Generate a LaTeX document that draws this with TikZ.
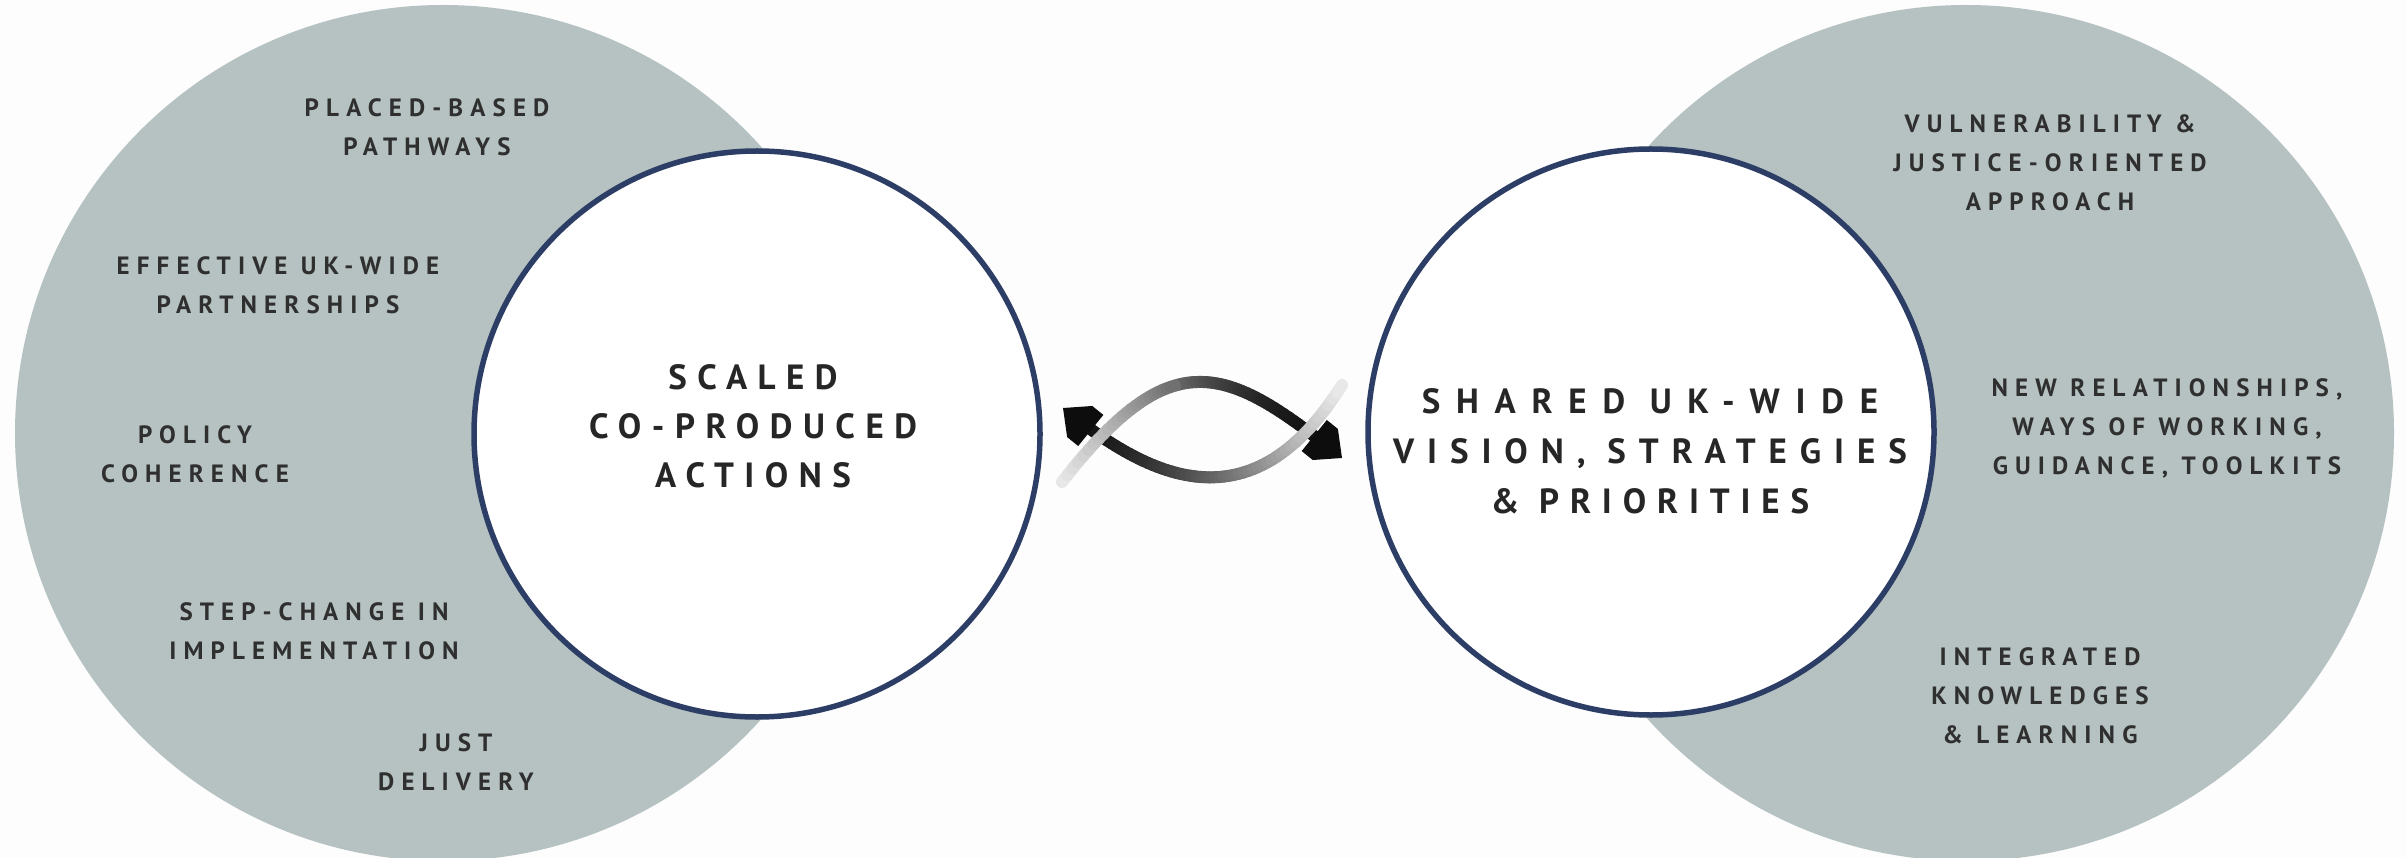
\documentclass[tikz,border=0pt]{standalone}
\usepackage{fontspec}
\usetikzlibrary{calc}
\newfontfamily\smallf{PT Sans}[LetterSpace=28.5]
\newfontfamily\bigfl{PT Sans}[LetterSpace=30]
\newfontfamily\bigfr{PT Sans}[LetterSpace=37]
\definecolor{bgc}{HTML}{FDFDFD}
\definecolor{sage}{HTML}{B5C2C1}
\definecolor{navy}{HTML}{2C3E66}
\definecolor{ink}{HTML}{2F2F2F}
\definecolor{inkb}{HTML}{262626}
\tikzset{
  declare function={bz(\t,\a,\b,\c,\d)=(1-\t)^3*\a+3*(1-\t)^2*\t*\b+3*(1-\t)*\t^2*\c+\t^3*\d;
                    shadeX(\u)=8+87*(1-\u^1.6);},
  bigdisc/.style={circle, fill=sage, minimum size=856pt, inner sep=0pt},
  ring/.style={circle, draw=navy, line width=5.5pt, fill=white, minimum size=566pt, inner sep=0pt},
  lbl/.style={align=center, text=ink, font=\smallf\bfseries\fontsize{25}{39}\selectfont},
  bigl/.style={align=center, text=inkb, font=\bigfl\bfseries\fontsize{35}{49}\selectfont},
  bigr/.style={align=center, text=inkb, font=\bigfr\bfseries\fontsize{35}{50}\selectfont},
  seg/.style={line width=12pt, line cap=round},
  head/.style={fill=black!95}
}
\begin{document}
\begin{tikzpicture}[x=1pt, y=-1pt]
\useasboundingbox (0,0) rectangle (2407,858);
\fill[bgc] (0,0) rectangle (2407,858);
% large discs
\node[bigdisc] (lbig) at (443,433) {};
\node[bigdisc] (rbig) at (1966,433) {};
% rings
\node[ring] (lring) at (757,434) {};
\node[ring] (rring) at (1651,432) {};
% titles
\node[bigl] (ltitle) at (753,426) {SCALED\\CO-PRODUCED\\ACTIONS};
\node[bigr] (rtitle) at (1650,451) {{\addfontfeatures{LetterSpace=45}SHARED UK-WIDE}\\VISION, STRATEGIES\\{\addfontfeatures{LetterSpace=31}\& PRIORITIES}};
% left labels
\node[lbl] (l1) at (427,127.5) {PLACED-BASED\\PATHWAYS};
\node[lbl] (l2) at (278,285.5) {EFFECTIVE UK-WIDE\\PARTNERSHIPS};
\node[lbl] (l3) at (195,454) {POLICY\\COHERENCE};
\node[lbl] (l4) at (314,631) {STEP-CHANGE IN\\IMPLEMENTATION};
\node[lbl] (l5) at (456,762.5) {JUST\\DELIVERY};
% right labels
\node[lbl] (r1) at (2050,163) {VULNERABILITY \&\\JUSTICE-ORIENTED\\APPROACH};
\node[lbl] (r2) at (2167,428) {NEW RELATIONSHIPS,\\WAYS OF WORKING,\\GUIDANCE, TOOLKITS};
\node[lbl] (r3) at (2040,696) {INTEGRATED\\KNOWLEDGES\\\& LEARNING};
% twisted double arrow
% curve A: 1063,408 / 1147.7,476.6 / 1250.8,530.9 / 1342,385
% curve B: 1062,482 / 1172.3,340.9 / 1226.2,364.3 / 1342,458
\foreach \i in {3,...,35}{
  \pgfmathsetmacro\ta{\i/60}\pgfmathsetmacro\tb{(\i+1)/60}\pgfmathsetmacro\X{shadeX((\i+0.5)/60)}
  \draw[seg, draw=black!\X] ({bz(\ta,1063,1147.7,1250.8,1342)},{bz(\ta,408,476.6,530.9,385)}) -- ({bz(\tb,1063,1147.7,1250.8,1342)},{bz(\tb,408,476.6,530.9,385)});
}
\foreach \i in {24,...,56}{
  \pgfmathsetmacro\ta{\i/60}\pgfmathsetmacro\tb{(\i+1)/60}\pgfmathsetmacro\X{shadeX(1-(\i+0.5)/60)}
  \draw[seg, draw=black!\X] ({bz(\ta,1062,1172.3,1226.2,1342)},{bz(\ta,482,340.9,364.3,458)}) -- ({bz(\tb,1062,1172.3,1226.2,1342)},{bz(\tb,482,340.9,364.3,458)});
}
\begin{scope}[shift={(1063,408)}, rotate=141]
  \fill[head] (0,0) -- (-21.5,20) -- (-35.7,20) -- (-35.7,-20) -- (-21.5,-20) -- cycle;
\end{scope}
\begin{scope}[shift={(1342,458)}, rotate=-39]
  \fill[head] (0,0) -- (-21.5,20) -- (-35.7,20) -- (-35.7,-20) -- (-21.5,-20) -- cycle;
\end{scope}
\foreach \i in {36,...,59}{
  \pgfmathsetmacro\ta{\i/60}\pgfmathsetmacro\tb{(\i+1)/60}\pgfmathsetmacro\X{shadeX((\i+0.5)/60)}
  \draw[seg, draw=black!\X] ({bz(\ta,1063,1147.7,1250.8,1342)},{bz(\ta,408,476.6,530.9,385)}) -- ({bz(\tb,1063,1147.7,1250.8,1342)},{bz(\tb,408,476.6,530.9,385)});
}
\foreach \i in {0,...,23}{
  \pgfmathsetmacro\ta{\i/60}\pgfmathsetmacro\tb{(\i+1)/60}\pgfmathsetmacro\X{shadeX(1-(\i+0.5)/60)}
  \draw[seg, draw=black!\X] ({bz(\ta,1062,1172.3,1226.2,1342)},{bz(\ta,482,340.9,364.3,458)}) -- ({bz(\tb,1062,1172.3,1226.2,1342)},{bz(\tb,482,340.9,364.3,458)});
}
\end{tikzpicture}
\end{document}
